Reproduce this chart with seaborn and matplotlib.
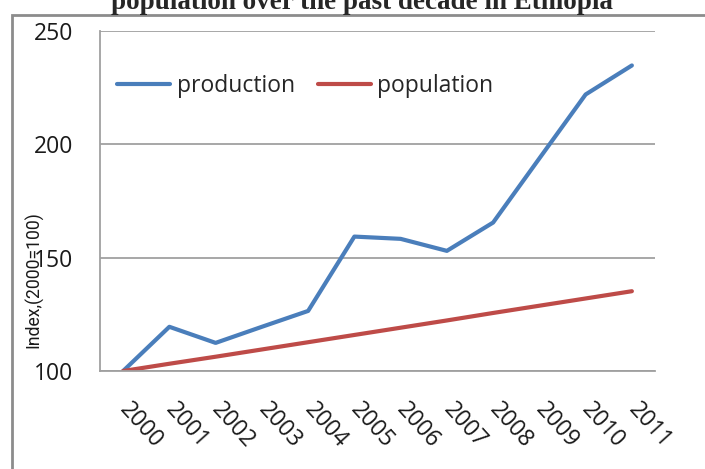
import matplotlib
matplotlib.use("Agg")
import matplotlib.pyplot as plt
import seaborn as sns
import pandas as pd
from matplotlib.patches import Rectangle
from matplotlib.lines import Line2D

years = ["2000", "2001", "2002", "2003", "2004", "2005", "2006", "2007", "2008", "2009", "2010", "2011"]
production = [100, 119.5, 112.4, 119.5, 126.5, 159.3, 158.3, 153.0, 165.5, 193.8, 222.0, 234.8]
population = [100, 103.2, 106.3, 109.5, 112.7, 115.9, 119.1, 122.3, 125.6, 128.8, 132.0, 135.2]
series_names = ["production", "population"]
colors = ["#4A7EBB", "#BE4B48"]
y_ticks = [100, 150, 200, 250]
title_text = "population over the past decade in Ethiopia"
y_label = "Index,(2000=100)"

df = pd.DataFrame({
    "year": years * 2,
    "value": production + population,
    "series": [series_names[0]] * len(years) + [series_names[1]] * len(years),
})

sns.set_style("white")
plt.rcParams["font.family"] = ["Open Sans", "DejaVu Sans"]

fig = plt.figure(figsize=(7.05, 4.69), dpi=100)
ax = fig.add_axes([100 / 705, 1 - 371 / 469, 555 / 705, 340 / 469])

sns.lineplot(data=df, x="year", y="value", hue="series", palette=colors,
             linewidth=3.0, ax=ax, legend=False, sort=False)

ax.set_xlim(-0.5, len(years) - 0.5)
ax.set_ylim(100, 250)
ax.set_yticks(y_ticks)
ax.yaxis.grid(True, color="#A0A0A0", linewidth=1.3)
ax.xaxis.grid(False)
for s in ["top", "right"]:
    ax.spines[s].set_visible(False)
for s in ["left", "bottom"]:
    ax.spines[s].set_color("#A0A0A0")
    ax.spines[s].set_linewidth(1.3)
ax.tick_params(axis="y", length=0, pad=19, labelsize=16.5, labelcolor="#1a1a1a")
ax.tick_params(axis="x", length=0, pad=25, labelsize=16.5, labelcolor="#1a1a1a")
ax.set_xlabel("")
ax.set_ylabel("")
for lab in ax.get_xticklabels():
    lab.set_rotation(-48)
    lab.set_ha("left")
    lab.set_va("center")
    lab.set_rotation_mode("anchor")

fig.text(33.5 / 705, 1 - 280 / 469, y_label, rotation=90, ha="center", va="center",
         fontsize=12.7, color="#1a1a1a", family=["Roboto", "DejaVu Sans"])

handles = [Line2D([0], [0], color=c, linewidth=3.0, solid_capstyle="round") for c in colors]
ax.legend(handles, series_names, loc="upper left", bbox_to_anchor=(0.0145, 0.9),
          ncol=2, frameon=False, fontsize=16.5, handlelength=2.3, handletextpad=0.3,
          columnspacing=1.0, borderaxespad=0.0)

fig.patches.append(Rectangle((11.5 / 705, -0.05), 1.1, (1 - 15 / 469) + 0.05,
                             transform=fig.transFigure, fill=False,
                             edgecolor="#8C8C8C", linewidth=2.0))

fig.text(362 / 705, 1 - 9 / 469, title_text, ha="center", va="baseline",
         fontsize=19.5, fontweight="bold", family="Liberation Serif")

fig.savefig("out.png", dpi=100)
